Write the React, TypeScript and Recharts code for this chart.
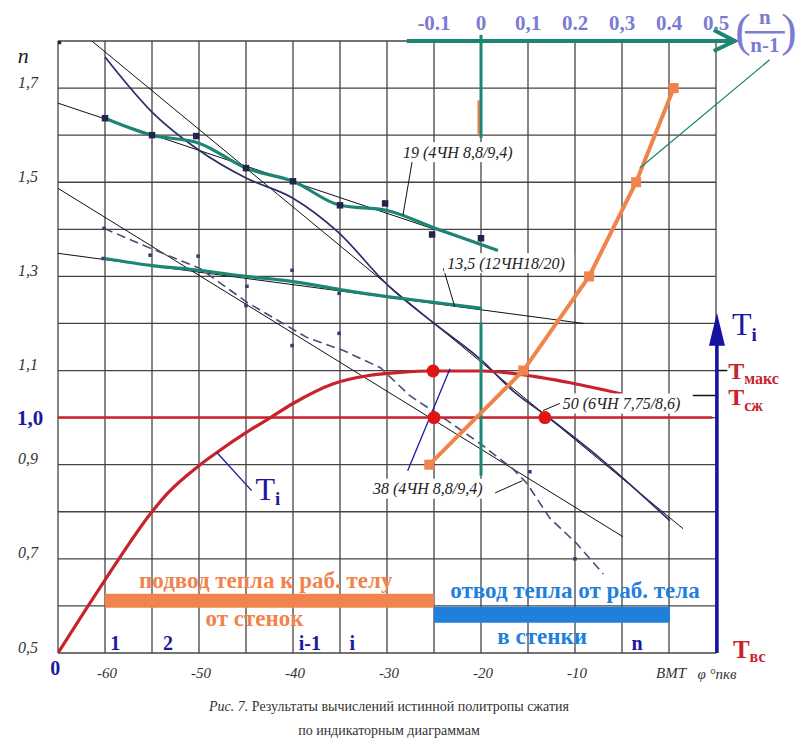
import React from 'react';
import {
  ComposedChart, Line, XAxis, YAxis, CartesianGrid, ReferenceLine,
  ReferenceDot, ReferenceArea, Scatter,
} from 'recharts';

const SERIF = 'Liberation Serif, Times New Roman, Tinos, DejaVu Serif, serif';
const TEAL = '#1d8573';
const NAVY = '#2d2d68';
const RED = '#c8232a';
const ORANGE = '#f0844c';
const BLUE_TXT = '#1a1aa0';
const SKY = '#1f80dc';
const PURPLE = '#7b7bd4';

// ---- axes ----
const degGrid = [-65, -60, -55, -50, -45, -40, -35, -30, -25, -20, -15, -10, -5, 0, 5];
const nGrid = [0.5, 0.6, 0.7, 0.8, 0.9, 1.0, 1.1, 1.2, 1.3, 1.4, 1.5, 1.6, 1.7, 1.8];
const degLabelVals = [-60, -50, -40, -30, -20, -10, 0];
const degLabelText = ['-60', '-50', '-40', '-30', '-20', '-10', 'BMT'];
const nLabelVals = [0.5, 0.7, 0.9, 1.0, 1.1, 1.3, 1.5, 1.7];
const nLabelText = ['0,5', '0,7', '0,9', '1,0', '1,1', '1,3', '1,5', '1,7'];
const ratioTicks = [-0.1, 0, 0.1, 0.2, 0.3, 0.4, 0.5];
const ratioText = ['-0.1', '0', '0,1', '0.2', '0,3', '0.4', '0.5'];

// ---- series (deg, n) ----
const tiDeg = [-65, -60, -55, -53.4, -50, -48.1, -45, -42.4, -40, -35.7, -32.1, -28.6, -25.1, -19.8, -15.9, -10.5, -5];
const tiN = [0.5, 0.655, 0.8, 0.838, 0.898, 0.926, 0.968, 1.0, 1.03, 1.072, 1.089, 1.096, 1.099, 1.099, 1.092, 1.074, 1.05];

const s19Deg = [-60, -55, -50, -45, -40, -35, -30, -25.1, -18.2];
const s19N = [1.636, 1.6, 1.583, 1.53, 1.502, 1.451, 1.44, 1.404, 1.355];
const sq19Deg = [-65, -60, -55, -50.3, -45, -40, -35, -30.2, -25.2, -20];
const sq19N = [1.8, 1.636, 1.6, 1.598, 1.53, 1.502, 1.451, 1.455, 1.389, 1.381];
const fit19Deg = [-65, -18.2];
const fit19N = [1.668, 1.355];

const s135Deg = [-60, -55, -50, -45, -40, -35, -30, -25.1, -19.9];
const s135N = [1.338, 1.323, 1.313, 1.3, 1.289, 1.272, 1.257, 1.245, 1.232];
const fit135Deg = [-65, -9.1];
const fit135N = [1.349, 1.2];

const s50Deg = [-60, -55, -50, -45, -40, -35.2, -29.9, -25.1, -19.9, -16.6, -13.2, -7.3, 0.1];
const s50N = [1.766, 1.649, 1.568, 1.509, 1.466, 1.394, 1.281, 1.202, 1.121, 1.057, 1.006, 0.913, 0.781];
const fit50Deg = [-61.4, 1.5];
const fit50N = [1.8, 0.764];

const s38Deg = [-60.1, -55.2, -49.9, -44.9, -38.5, -34.7, -30.7, -27.6, -23.6, -20.1, -16.6, -15.1, -12.7, -9.8, -7.0];
const s38N = [1.402, 1.36, 1.317, 1.245, 1.17, 1.143, 1.106, 1.047, 0.994, 0.945, 0.891, 0.86, 0.787, 0.732, 0.668];
const fit38Deg = [-65, -4.9];
const fit38N = [1.487, 0.747];
const dotsDeg = [-60.1, -55.2, -50.1, -44.9, -45, -40.1, -40.1, -35.1, -35.1, -14.8, -10, -60.2];
const dotsN = [1.402, 1.345, 1.343, 1.279, 1.238, 1.313, 1.153, 1.264, 1.179, 0.885, 0.7, 1.338];

const redDotDeg = [-25.1, -25, -13.2];
const redDotN = [1.099, 1.0, 1.0];

// orange: (n-1)/n on top axis
const orangeN = [0.9, 1.1, 1.3, 1.5, 1.7];
const orangeV = [-0.11, 0.09, 0.23, 0.33, 0.41];

const zip = (xs: number[], ys: number[]) => xs.map((x, i) => ({ deg: x, n: ys[i] }));
const dTi = zip(tiDeg, tiN);
const d19 = zip(s19Deg, s19N);
const dSq19 = zip(sq19Deg, sq19N);
const dFit19 = zip(fit19Deg, fit19N);
const d135 = zip(s135Deg, s135N);
const dFit135 = zip(fit135Deg, fit135N);
const d50 = zip(s50Deg, s50N);
const dFit50 = zip(fit50Deg, fit50N);
const d38 = zip(s38Deg, s38N);
const dFit38 = zip(fit38Deg, fit38N);
const dDots = zip(dotsDeg, dotsN);
const dRed = zip(redDotDeg, redDotN);
const dOrange = orangeV.map((v, i) => ({ v, n: orangeN[i] }));

const near = (a: number, b: number) => Math.abs(a - b) < 1e-6;

const bottomTick = (p: any) => {
  const i = degLabelVals.findIndex((t) => near(t, p.payload.value));
  if (i < 0) return <g key={p.index} />;
  return (
    <text key={p.index} x={p.x + 2} y={673} textAnchor="middle" dominantBaseline="central"
      fontFamily={SERIF} fontStyle="italic" fontSize={15} fill="#333">{degLabelText[i]}</text>
  );
};

const leftTick = (p: any) => {
  const v = p.payload.value;
  const i = nLabelVals.findIndex((t) => near(t, v));
  if (i < 0) return <g key={p.index} />;
  if (near(v, 1)) {
    return (
      <text key={p.index} x={30} y={p.y} textAnchor="middle" dominantBaseline="central"
        fontFamily={SERIF} fontWeight="bold" fontSize={21} fill={BLUE_TXT}>{nLabelText[i]}</text>
    );
  }
  return (
    <text key={p.index} x={28} y={p.y - 6} textAnchor="middle" dominantBaseline="central"
      fontFamily={SERIF} fontStyle="italic" fontSize={16} fill="#333">{nLabelText[i]}</text>
  );
};

const topTick = (p: any) => {
  const i = ratioTicks.findIndex((t) => near(t, p.payload.value));
  if (i < 0) return <g key={p.index} />;
  return (
    <text key={p.index} x={p.x} y={23} textAnchor="middle" dominantBaseline="central"
      fontFamily={SERIF} fontWeight="bold" fontSize={21} fill={PURPLE}>{ratioText[i]}</text>
  );
};

const txt = (s: string, o: any) => (p: any) => (
  <text x={p.cx} y={p.cy} dominantBaseline="central" fontFamily={SERIF} {...o}>{s}</text>
);

const boxLabel = (s: string, w: number) => (p: any) => (
  <g>
    <rect x={p.cx - 3} y={p.cy - 10} width={w} height={20} fill="#fff" />
    <text x={p.cx} y={p.cy} dominantBaseline="central" fontFamily={SERIF}
      fontStyle="italic" fontSize={16} fill="#222">{s}</text>
  </g>
);

const tLabel = (sub: string, color: string, big: number, small: number, weight: string) => (p: any) => (
  <text x={p.cx} y={p.cy} dominantBaseline="central" fontFamily={SERIF} fill={color}>
    <tspan fontSize={big} fontWeight={weight}>T</tspan>
    <tspan fontSize={small} fontWeight="bold" dy={big * 0.3}>{sub}</tspan>
  </text>
);

const squareShape = (size: number, color: string) => (p: any) => (
  <rect x={p.cx - size / 2} y={p.cy - size / 2} width={size} height={size} fill={color} />
);
const circleShape = (r: number, color: string) => (p: any) => (
  <circle cx={p.cx} cy={p.cy} r={r} fill={color} />
);

const BIG = { textAnchor: 'middle', fontWeight: 'bold', fontSize: 23 };
const NUM = { textAnchor: 'middle', fontWeight: 'bold', fontSize: 20, fill: BLUE_TXT };

export default function App() {
  return (
    <div style={{ position: 'absolute', left: 0, top: 0, width: 802, height: 756, background: '#fff' }}>
      <ComposedChart width={802} height={756} margin={{ top: 11, right: 86, bottom: 73, left: 18 }}>
        <CartesianGrid stroke="#444" strokeWidth={1.3} />
        <XAxis xAxisId={0} dataKey="deg" type="number" domain={[-65, 5]} allowDataOverflow
          ticks={degGrid} interval={0} height={30} axisLine={false} tickLine={false} tick={bottomTick} />
        <XAxis xAxisId="t" dataKey="v" type="number" orientation="top" domain={[-0.9, 0.5]} allowDataOverflow
          ticks={ratioTicks} interval={0} height={30} axisLine={false} tickLine={false} tick={topTick} />
        <YAxis dataKey="n" type="number" domain={[0.5, 1.8]} allowDataOverflow ticks={nGrid} interval={0}
          width={40} axisLine={false} tickLine={false} tick={leftTick} />

        {/* heat bars */}
        <ReferenceArea x1={-60} x2={-25} y1={0.596} y2={0.626} fill={ORANGE} fillOpacity={1} stroke="none" />
        <ReferenceArea x1={-25} x2={0.1} y1={0.564} y2={0.598} fill={SKY} fillOpacity={1} stroke="none" />

        {/* regression thin lines */}
        <Line data={dFit19} dataKey="n" stroke="#111" strokeWidth={1} dot={false} isAnimationActive={false} />
        <Line data={dFit135} dataKey="n" stroke="#111" strokeWidth={1} dot={false} isAnimationActive={false} />
        <Line data={dFit50} dataKey="n" stroke="#111" strokeWidth={1} dot={false} isAnimationActive={false} />
        <Line data={dFit38} dataKey="n" stroke="#111" strokeWidth={1} dot={false} isAnimationActive={false} />

        <Line data={d38} dataKey="n" stroke="#4a4a78" strokeWidth={1.6} strokeDasharray="9 5" dot={false} isAnimationActive={false} />
        <Line data={d50} dataKey="n" type="monotone" stroke={NAVY} strokeWidth={1.7} dot={false} isAnimationActive={false} />
        <Line data={d19} dataKey="n" type="monotone" stroke={TEAL} strokeWidth={3.2} dot={false} isAnimationActive={false} />
        <Line data={d135} dataKey="n" type="monotone" stroke={TEAL} strokeWidth={3.2} dot={false} isAnimationActive={false} />

        {/* reference level lines */}
        <ReferenceLine segment={[{ x: -65, y: 1.0 }, { x: 4.6, y: 1.0 }]} stroke={RED} strokeWidth={2.5} ifOverflow="visible" />
        <ReferenceLine segment={[{ x: -5, y: 1.047 }, { x: 5, y: 1.047 }]} stroke="#111" strokeWidth={1.5} ifOverflow="visible" />
        <ReferenceLine segment={[{ x: 5, y: 1.1 }, { x: 6.2, y: 1.1 }]} stroke="#111" strokeWidth={1.5} ifOverflow="visible" />

        <Line data={dTi} dataKey="n" type="monotone" stroke={RED} strokeWidth={3.2} dot={false} isAnimationActive={false} />

        {/* top ratio axis and its zero line */}
        <ReferenceLine xAxisId="t" segment={[{ x: -0.158, y: 1.8 }, { x: 0.535, y: 1.8 }]} stroke={TEAL} strokeWidth={4} ifOverflow="visible" />
        <ReferenceDot xAxisId="t" x={0.54} y={1.8} ifOverflow="visible"
          shape={(p: any) => (
            <polyline points={`${p.cx - 21},${p.cy - 11} ${p.cx},${p.cy} ${p.cx - 21},${p.cy + 10}`}
              fill="none" stroke={TEAL} strokeWidth={4} />
          )} />
        <ReferenceLine xAxisId="t" segment={[{ x: -0.005, y: 1.674 }, { x: -0.005, y: 1.6 }]} stroke={ORANGE} strokeWidth={2.5} ifOverflow="visible" />
        <ReferenceLine xAxisId="t" segment={[{ x: 0, y: 1.813 }, { x: 0, y: 1.594 }]} stroke={TEAL} strokeWidth={3} ifOverflow="visible" />
        <ReferenceLine xAxisId="t" segment={[{ x: 0, y: 1.202 }, { x: 0, y: 0.877 }]} stroke={TEAL} strokeWidth={3} ifOverflow="visible" />

        <Line xAxisId="t" data={dOrange} dataKey="n" stroke={ORANGE} strokeWidth={4} isAnimationActive={false}
          dot={(p: any) => <rect key={p.index} x={p.cx - 5} y={p.cy - 5} width={10} height={10} fill={ORANGE} />} />

        {/* pointer lines */}
        <ReferenceLine segment={[{ x: 10.7, y: 1.76 }, { x: -3.1, y: 1.53 }]} stroke={TEAL} strokeWidth={1.3} ifOverflow="visible" />
        <ReferenceLine segment={[{ x: -27.3, y: 1.547 }, { x: -28.3, y: 1.43 }]} stroke="#111" strokeWidth={1} ifOverflow="visible" />
        <ReferenceLine segment={[{ x: -24.0, y: 1.317 }, { x: -22.8, y: 1.236 }]} stroke="#111" strokeWidth={1} ifOverflow="visible" />
        <ReferenceLine segment={[{ x: -11.4, y: 1.032 }, { x: -13.4, y: 1.015 }]} stroke="#111" strokeWidth={1} ifOverflow="visible" />
        <ReferenceLine segment={[{ x: -18.5, y: 0.84 }, { x: -15.6, y: 0.866 }]} stroke="#111" strokeWidth={1} ifOverflow="visible" />
        <ReferenceLine segment={[{ x: -27.8, y: 0.887 }, { x: -23.3, y: 1.104 }]} stroke={BLUE_TXT} strokeWidth={1.3} ifOverflow="visible" />
        <ReferenceLine segment={[{ x: -48.1, y: 0.926 }, { x: -44.4, y: 0.845 }]} stroke={BLUE_TXT} strokeWidth={1.3} ifOverflow="visible" />

        {/* Ti axis on the right */}
        <ReferenceLine segment={[{ x: 5.1, y: 0.5 }, { x: 5.1, y: 1.16 }]} stroke="#1414a0" strokeWidth={3.5} ifOverflow="visible" />
        <ReferenceDot x={5.1} y={1.223} ifOverflow="visible"
          shape={(p: any) => (
            <polygon points={`${p.cx},${p.cy} ${p.cx - 8},${p.cy + 33} ${p.cx + 8},${p.cy + 33}`} fill="#1414a0" />
          )} />

        {/* points */}
        <Scatter data={dDots} dataKey="n" isAnimationActive={false} shape={squareShape(3.5, '#3a3a70')} />
        <Scatter data={dSq19} dataKey="n" isAnimationActive={false} shape={squareShape(6.5, '#23234f')} />
        <Scatter data={dRed} dataKey="n" isAnimationActive={false} shape={circleShape(6.5, '#e01515')} />

        {/* series labels */}
        <ReferenceDot x={-28.3} y={1.564} ifOverflow="visible" shape={boxLabel('19 (4ЧН 8,8/9,4)', 125)} />
        <ReferenceDot x={-23.6} y={1.328} ifOverflow="visible" shape={boxLabel('13,5 (12ЧН18/20)', 130)} />
        <ReferenceDot x={-11.3} y={1.03} ifOverflow="visible" shape={boxLabel('50 (6ЧН 7,75/8,6)', 133)} />
        <ReferenceDot x={-31.5} y={0.849} ifOverflow="visible" shape={boxLabel('38 (4ЧН 8,8/9,4)', 124)} />

        {/* bottom texts */}
        <ReferenceDot x={-42.9} y={0.653} ifOverflow="visible" shape={txt('подвод тепла к раб. телу', { ...BIG, fill: ORANGE })} />
        <ReferenceDot x={-44.1} y={0.574} ifOverflow="visible" shape={txt('от стенок', { ...BIG, fill: ORANGE })} />
        <ReferenceDot x={-10.0} y={0.632} ifOverflow="visible" shape={txt('отвод тепла от раб. тела', { ...BIG, fill: SKY })} />
        <ReferenceDot x={-13.5} y={0.536} ifOverflow="visible" shape={txt('в стенки', { ...BIG, fill: SKY })} />
        <ReferenceDot x={-58.9} y={0.521} ifOverflow="visible" shape={txt('1', NUM)} />
        <ReferenceDot x={-53.3} y={0.521} ifOverflow="visible" shape={txt('2', NUM)} />
        <ReferenceDot x={-38.2} y={0.521} ifOverflow="visible" shape={txt('i-1', NUM)} />
        <ReferenceDot x={-33.7} y={0.521} ifOverflow="visible" shape={txt('i', NUM)} />
        <ReferenceDot x={-3.4} y={0.521} ifOverflow="visible" shape={txt('n', NUM)} />

        {/* axis names and T labels */}
        <ReferenceDot x={-68.7} y={1.77} ifOverflow="visible" shape={txt('n', { textAnchor: 'middle', fontStyle: 'italic', fontSize: 22, fill: '#222' })} />
        <ReferenceDot x={-65.3} y={0.468} ifOverflow="visible" shape={txt('0', NUM)} />
        <ReferenceDot x={5.1} y={0.455} ifOverflow="visible" shape={txt('φ °пкв', { textAnchor: 'middle', fontStyle: 'italic', fontSize: 15, fill: '#333' })} />
        <ReferenceDot x={-44.0} y={0.849} ifOverflow="visible" shape={tLabel('i', BLUE_TXT, 32, 19, 'normal')} />
        <ReferenceDot x={6.7} y={1.198} ifOverflow="visible" shape={tLabel('i', BLUE_TXT, 32, 19, 'normal')} />
        <ReferenceDot x={6.3} y={1.1} ifOverflow="visible" shape={tLabel('макс', RED, 24, 16, 'bold')} />
        <ReferenceDot x={6.3} y={1.043} ifOverflow="visible" shape={tLabel('сж', RED, 24, 16, 'bold')} />
        <ReferenceDot x={6.8} y={0.509} ifOverflow="visible" shape={tLabel('вс', RED, 25, 16, 'bold')} />

        {/* top axis name: n/(n-1) */}
        <ReferenceDot xAxisId="t" x={0.604} y={1.823} ifOverflow="visible"
          shape={(p: any) => (
            <g fontFamily={SERIF} fill={PURPLE}>
              <text x={p.cx - 22} y={p.cy} textAnchor="middle" dominantBaseline="central" fontSize={46}>(</text>
              <text x={p.cx} y={p.cy - 13} textAnchor="middle" dominantBaseline="central" fontSize={21} fontWeight="bold">n</text>
              <line x1={p.cx - 20} x2={p.cx + 20} y1={p.cy + 2} y2={p.cy + 2} stroke={PURPLE} strokeWidth={2.5} />
              <text x={p.cx} y={p.cy + 15} textAnchor="middle" dominantBaseline="central" fontSize={21} fontWeight="bold">n-1</text>
              <text x={p.cx + 24} y={p.cy} textAnchor="middle" dominantBaseline="central" fontSize={46}>)</text>
            </g>
          )} />
      </ComposedChart>

      <div style={{ position: 'absolute', left: 0, width: 778, top: 699, textAlign: 'center', whiteSpace: 'nowrap', fontFamily: SERIF, fontSize: 14, color: '#333' }}>
        <i>Рис. 7.</i> Результаты вычислений истинной политропы сжатия
      </div>
      <div style={{ position: 'absolute', left: 0, width: 778, top: 723, textAlign: 'center', whiteSpace: 'nowrap', fontFamily: SERIF, fontSize: 14, color: '#333' }}>
        по индикаторным диаграммам
      </div>
    </div>
  );
}
